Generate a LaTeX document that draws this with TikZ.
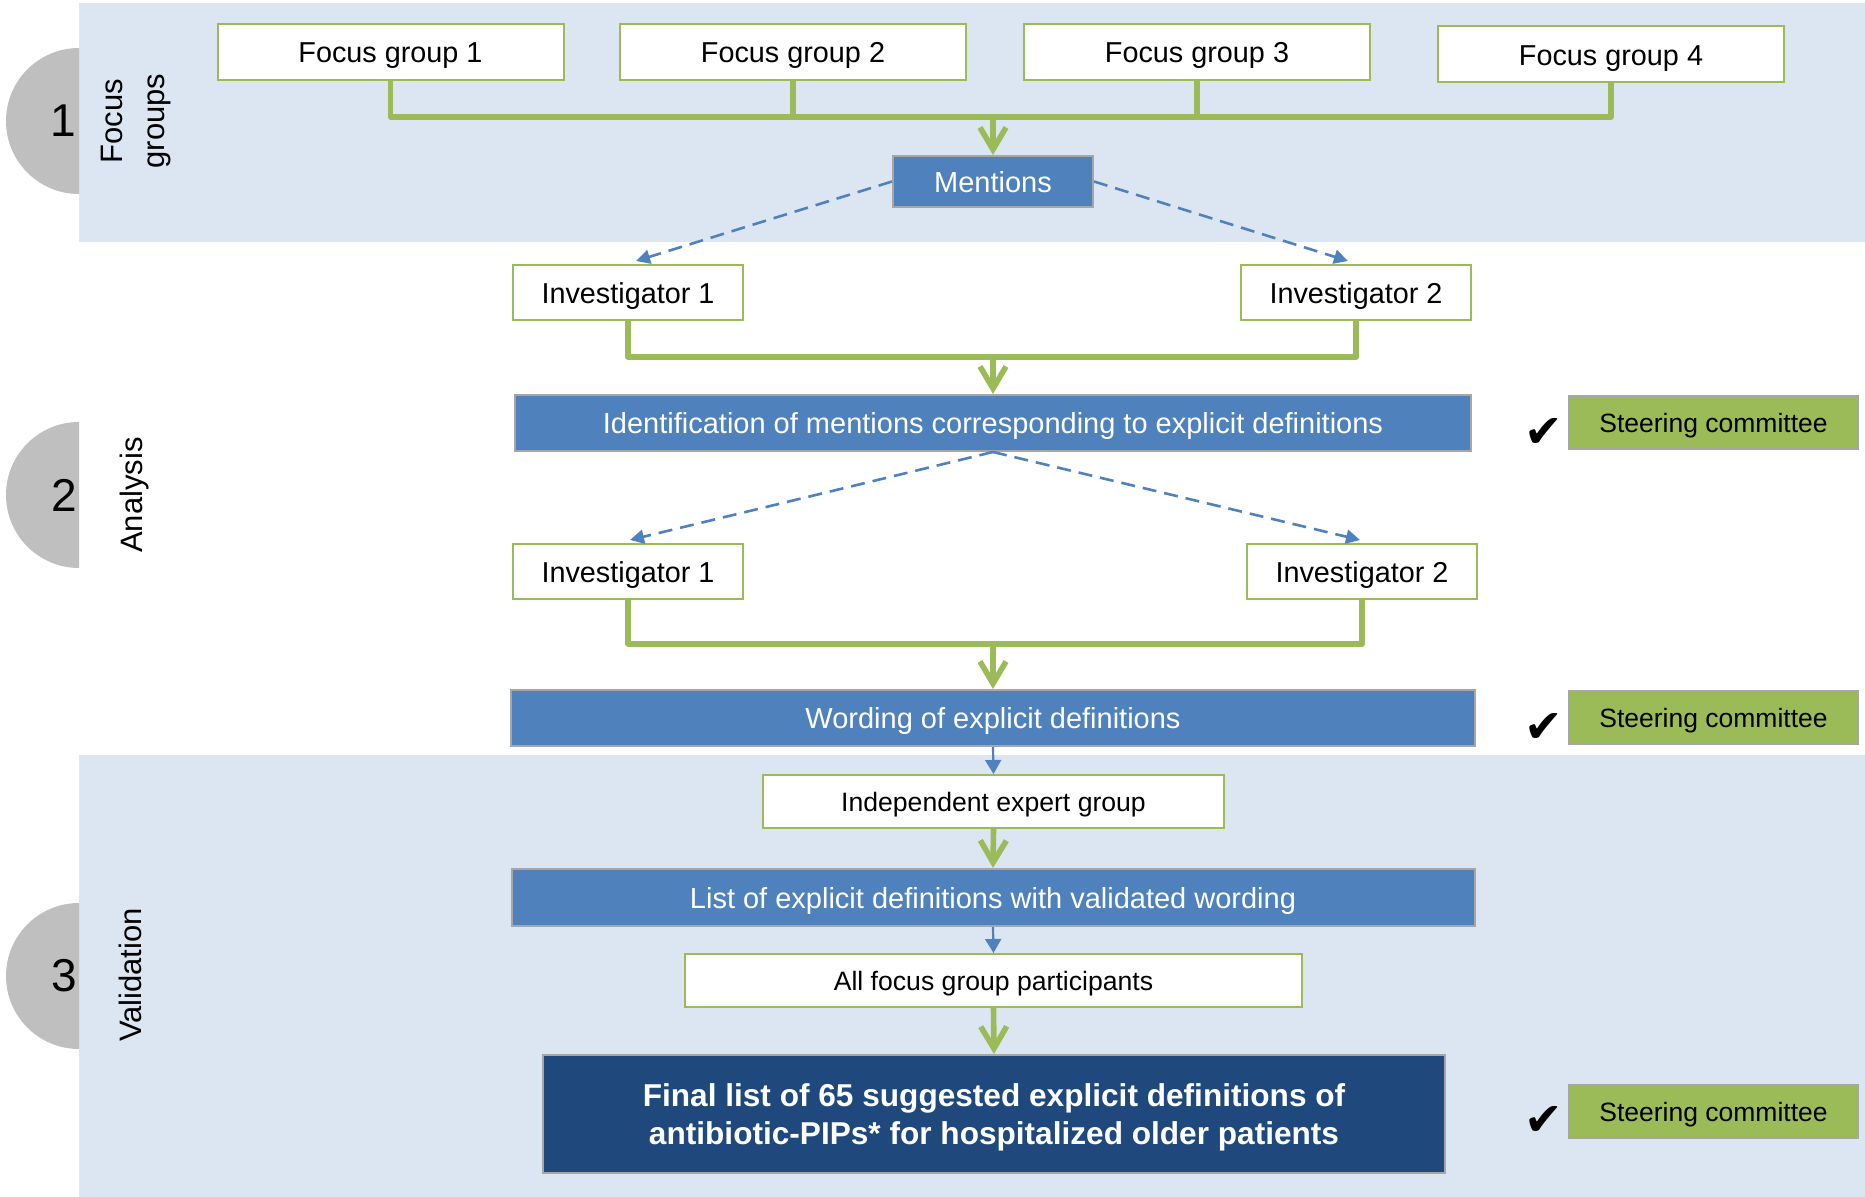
\documentclass[tikz,border=0pt]{standalone}
\usepackage{fontspec}
\setmainfont{Liberation Sans}
\newfontfamily\symfont{DejaVu Sans}
\usetikzlibrary{arrows.meta}
\definecolor{bandblue}{HTML}{DCE6F2}
\definecolor{boxblue}{HTML}{4F81BD}
\definecolor{darkblue}{HTML}{1F497D}
\definecolor{ggreen}{HTML}{9BBB59}
\definecolor{circgray}{HTML}{BFBFBF}
\definecolor{bordergray}{HTML}{A6A6A6}
\begin{document}
\begin{tikzpicture}[x=0.5pt,y=-0.5pt,
  wbox/.style={draw=ggreen, line width=1pt, fill=white, inner sep=0pt, minimum height=28pt, text height=10.7pt, text depth=0pt, font=\fontsize{14.4}{17}\selectfont},
  wsmall/.style={wbox, minimum height=26.5pt, text height=10.2pt, font=\fontsize{13.3}{16}\selectfont},
  bbox/.style={draw=bordergray, line width=1pt, fill=boxblue, text=white, inner sep=0pt, minimum height=28pt, text height=10.7pt, text depth=0pt, font=\fontsize{14.5}{17}\selectfont},
  fbox/.style={draw=bordergray, line width=1pt, fill=darkblue, text=white, inner sep=0pt, align=center, text depth=0pt, font=\fontsize{15.8}{19}\selectfont\bfseries},
  sbox/.style={draw=bordergray, line width=1pt, fill=ggreen, text=black, inner sep=0pt, minimum width=144.5pt, minimum height=26.5pt, text height=10.2pt, text depth=0pt, font=\fontsize{13.25}{16}\selectfont},
  chk/.style={inner sep=0pt, font=\symfont\fontsize{23}{23}\selectfont},
  digit/.style={inner sep=0pt, font=\fontsize{23}{23}\selectfont},
  side/.style={inner sep=0pt, rotate=90, align=center, font=\fontsize{15.5}{21}\selectfont},
  gline/.style={draw=ggreen, line width=2.8pt, line join=round},
  garrow/.style={gline, -{Straight Barb[length=11pt,width=13pt,line width=2.8pt]}},
  barrow/.style={draw=boxblue, line width=1.1pt, -{Triangle[length=7pt,width=8pt]}},
  darrow/.style={draw=boxblue, line width=1.3pt, dash pattern=on 7pt off 4pt, -{Triangle[length=7pt,width=7pt]}}
]
\useasboundingbox (0,0) rectangle (1865,1197);
% bands
\fill[bandblue] (79,3) rectangle (1865,242);
\fill[bandblue] (79,755) rectangle (1865,1197);
% half disks
\begin{scope}
  \clip (0,0) rectangle (79,1197);
  \fill[circgray] (79,121) circle[radius=73];
  \fill[circgray] (79,495) circle[radius=73];
  \fill[circgray] (79,976) circle[radius=73];
\end{scope}
\node[digit] (d1) at (63,121) {1};
\node[digit] (d2) at (64,495) {2};
\node[digit] (d3) at (64,976) {3};
\node[side] (lab1) at (136,121) {Focus\\groups};
\node[side] (lab2) at (134,495) {Analysis};
\node[side] (lab3) at (130,975) {Validation};

% stage 1
\node[wbox, minimum width=173pt] (fg1) at (390.5,52) {Focus group 1};
\node[wbox, minimum width=173pt] (fg2) at (793,52) {Focus group 2};
\node[wbox, minimum width=173pt] (fg3) at (1197,52) {Focus group 3};
\node[wbox, minimum width=173pt] (fg4) at (1611,54.5) {Focus group 4};
\node[bbox, minimum width=100pt, minimum height=25.5pt] (ment) at (993,181.5) {Mentions};

% stage 2
\node[wbox, minimum width=115pt, minimum height=27.5pt] (i1a) at (628,292.5) {Investigator 1};
\node[wbox, minimum width=115pt, minimum height=27.5pt] (i2a) at (1356,292.5) {Investigator 2};
\node[bbox, minimum width=478pt] (ident) at (993,423) {Identification of mentions corresponding to explicit definitions};
\node[wbox, minimum width=115pt, minimum height=27.5pt] (i1b) at (628,571.5) {Investigator 1};
\node[wbox, minimum width=115pt, minimum height=27.5pt] (i2b) at (1362,571.5) {Investigator 2};
\node[bbox, minimum width=482pt] (word) at (993,718) {Wording of explicit definitions};

% stage 3
\node[wsmall, minimum width=230.5pt] (indep) at (993.5,801.5) {Independent expert group};
\node[bbox, minimum width=481.5pt, minimum height=28.5pt] (list) at (993,897.5) {List of explicit definitions with validated wording};
\node[wsmall, minimum width=308.5pt] (allf) at (993.5,980.5) {All focus group participants};
\node[fbox, minimum width=451pt, minimum height=59pt] (final) at (994,1114) {Final list of 65 suggested explicit definitions of\\antibiotic-PIPs* for hospitalized older patients};

% steering committee
\node[sbox] (sc1) at (1713.5,422.5) {Steering committee};
\node[sbox] (sc2) at (1713.5,717.5) {Steering committee};
\node[sbox] (sc3) at (1713.5,1111) {Steering committee};
\node[chk] (c1) at (1544,433) {✔};
\node[chk] (c2) at (1544,728) {✔};
\node[chk] (c3) at (1544,1121) {✔};

% connectors stage 1
\coordinate (bus1) at (993,117);
\draw[gline] (fg1.south) |- (bus1) -| (fg4.south);
\draw[gline] (fg2.south) -- (fg2.south |- bus1);
\draw[gline] (fg3.south) -- (fg3.south |- bus1);
\draw[garrow] (bus1) -- (ment.north);
\draw[darrow] (ment.west) -- ([xshift=4pt,yshift=1.5pt]i1a.north);
\draw[darrow] (ment.east) -- ([xshift=-4pt,yshift=1.5pt]i2a.north);

% connectors stage 2
\coordinate (bus2) at (993,357);
\draw[gline] (i1a.south) |- (bus2) -| (i2a.south);
\draw[garrow] (bus2) -- (ident.north);
\draw[darrow] (ident.south) -- ([xshift=1pt,yshift=1.5pt]i1b.north);
\draw[darrow] (ident.south) -- ([xshift=-1pt,yshift=1.5pt]i2b.north);
\coordinate (bus3) at (993,644);
\draw[gline] (i1b.south) |- (bus3) -| (i2b.south);
\draw[garrow] (bus3) -- (word.north);

% connectors stage 3
\draw[barrow] (word.south) -- (indep.north);
\draw[garrow] (indep.south) -- (list.north);
\draw[barrow] (list.south) -- (allf.north);
\draw[garrow] (allf.south) -- (final.north);
\end{tikzpicture}
\end{document}
